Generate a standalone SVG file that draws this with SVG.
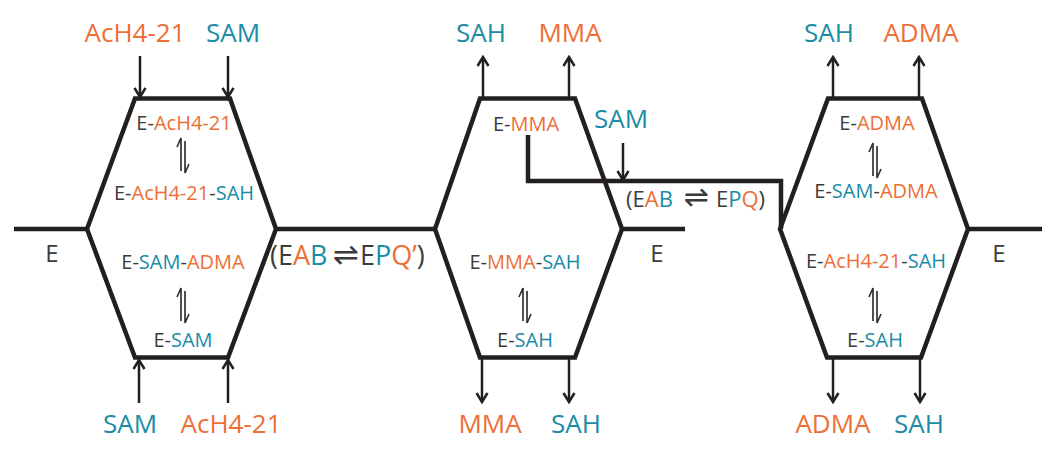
<svg xmlns="http://www.w3.org/2000/svg" width="1050" height="451" viewBox="0 0 1050 451">
<style>
text{font-family:"Open Sans","DejaVu Sans",sans-serif;fill:#3b3b3b}
.o{fill:#EC6F37}
.t{fill:#1A8CA6}
.lbl{font-size:26px;text-anchor:middle}
.in{font-size:20px;text-anchor:middle}
.e{font-size:24px;text-anchor:middle}
.sym{font-family:"DejaVu Sans",sans-serif}
.hex{fill:none;stroke:#231F20;stroke-width:4.5;stroke-linejoin:miter}
.ln{fill:none;stroke:#231F20;stroke-width:4.5;stroke-linejoin:miter}
.arr{stroke:#231F20;stroke-width:2.5;fill:none;marker-end:url(#ah)}
.eqp{stroke:#333;stroke-width:1.7;fill:none}
</style>
<defs>
<marker id="ah" viewBox="-11 -7 13 14" markerWidth="13" markerHeight="14" refX="0" refY="0" orient="auto" markerUnits="userSpaceOnUse">
<path d="M-9,-5.5 L0,0 L-9,5.5" fill="none" stroke="#231F20" stroke-width="2.5"/>
</marker>
<g id="eq">
<path class="eqp" d="M-2,16 L-2,-17 L-6,-8"/>
<path class="eqp" d="M2,-14 L2,18 L6,9"/>
</g>
</defs>

<g id="connectors">
<path class="ln" d="M14,229 H87"/>
<path class="ln" d="M276,229 H435"/>
<path class="ln" d="M622,229 H685"/>
<path class="ln" d="M528,135 V181 H781 V229"/>
<path class="ln" d="M968,229 H1042"/>
<line class="arr" x1="140" y1="56" x2="140" y2="97"/>
<line class="arr" x1="228" y1="56" x2="228" y2="97"/>
<line class="arr" x1="139" y1="403" x2="139" y2="360"/>
<line class="arr" x1="228" y1="403" x2="228" y2="360"/>
<line class="arr" x1="483" y1="98" x2="483" y2="57"/>
<line class="arr" x1="569" y1="98" x2="569" y2="57"/>
<line class="arr" x1="482" y1="358" x2="482" y2="402"/>
<line class="arr" x1="569" y1="358" x2="569" y2="402"/>
<line class="arr" x1="623" y1="143" x2="623" y2="180"/>
<line class="arr" x1="833" y1="98" x2="833" y2="57"/>
<line class="arr" x1="919" y1="98" x2="919" y2="57"/>
<line class="arr" x1="833" y1="358" x2="833" y2="402"/>
<line class="arr" x1="920" y1="358" x2="920" y2="402"/>
</g>

<g id="hex-left">
<path class="hex" d="M87,229 L135,98.5 H230 L276,229 L228,357.5 H135 Z"/>
<text class="in" x="184" y="130">E-<tspan class="o">AcH4-21</tspan></text>
<use href="#eq" x="183" y="155"/>
<text class="in" x="184" y="200">E-<tspan class="o">AcH4-21</tspan>-<tspan class="t">SAH</tspan></text>
<text class="in" x="183" y="269">E-<tspan class="t">SAM</tspan>-<tspan class="o">ADMA</tspan></text>
<use href="#eq" x="183" y="305"/>
<text class="in" x="183" y="347">E-<tspan class="t">SAM</tspan></text>
</g>

<g id="hex-middle">
<path class="hex" d="M435,229 L480,98.5 H575 L622,229 L575,357.5 H480 Z"/>
<text class="in" x="526" y="131">E-<tspan class="o">MMA</tspan></text>
<text class="in" x="525" y="269">E-<tspan class="o">MMA</tspan>-<tspan class="t">SAH</tspan></text>
<use href="#eq" x="525" y="305"/>
<text class="in" x="525" y="347">E-<tspan class="t">SAH</tspan></text>
</g>

<g id="hex-right">
<path class="hex" d="M780,229 L828,98.5 H922 L968,229 L921,357.5 H827 Z"/>
<text class="in" x="877" y="130">E-<tspan class="o">ADMA</tspan></text>
<use href="#eq" x="875" y="160"/>
<text class="in" x="876" y="198">E-<tspan class="t">SAM</tspan>-<tspan class="o">ADMA</tspan></text>
<text class="in" x="876" y="268">E-<tspan class="o">AcH4-21</tspan>-<tspan class="t">SAH</tspan></text>
<use href="#eq" x="875" y="305"/>
<text class="in" x="875" y="347">E-<tspan class="t">SAH</tspan></text>
</g>

<g id="labels-E">
<text class="e" x="52" y="262">E</text>
<text class="e" x="657" y="262">E</text>
<text class="e" x="999" y="262">E</text>
</g>

<g id="complex-1">
<text x="270" y="265" style="font-size:27px">(E<tspan class="o">A</tspan><tspan class="t">B</tspan><tspan class="sym" x="333" style="font-size:31px">⇌</tspan><tspan x="360">E</tspan><tspan class="t">P</tspan><tspan class="o">Q’</tspan>)</text>
</g>
<g id="complex-2">
<text x="626" y="207" style="font-size:22px">(E<tspan class="o">A</tspan><tspan class="t">B</tspan><tspan class="sym" x="684" style="font-size:30px">⇌</tspan><tspan x="716">E</tspan><tspan class="t">P</tspan><tspan class="o">Q</tspan>)</text>
</g>

<g id="substrates">
<text class="lbl o" x="135" y="42">AcH4-21</text>
<text class="lbl t" x="233" y="42">SAM</text>
<text class="lbl t" x="130" y="433">SAM</text>
<text class="lbl o" x="231" y="433">AcH4-21</text>
<text class="lbl t" x="481" y="42">SAH</text>
<text class="lbl o" x="570" y="42">MMA</text>
<text class="lbl o" x="490" y="433">MMA</text>
<text class="lbl t" x="576" y="433">SAH</text>
<text class="lbl t" x="621" y="128">SAM</text>
<text class="lbl t" x="829" y="42">SAH</text>
<text class="lbl o" x="921" y="42">ADMA</text>
<text class="lbl o" x="833" y="433">ADMA</text>
<text class="lbl t" x="919" y="433">SAH</text>
</g>
</svg>
